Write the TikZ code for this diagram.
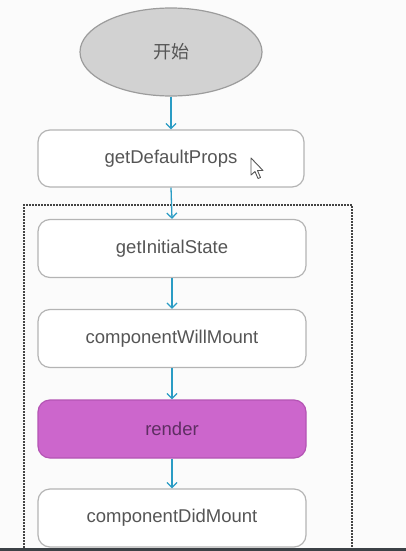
\documentclass[tikz,border=0pt]{standalone}
\usepackage{fontspec}
\setmainfont{Liberation Sans}
\newfontfamily\cjk{Noto Sans CJK SC}
\usetikzlibrary{shapes.geometric,arrows.meta}
\definecolor{bgc}{HTML}{FBFBFB}
\definecolor{boxline}{HTML}{B4B4B4}
\definecolor{txt}{HTML}{555555}
\definecolor{arr}{HTML}{2A9CC4}
\definecolor{ellfill}{HTML}{D2D2D2}
\definecolor{ellline}{HTML}{9C9C9C}
\definecolor{rendfill}{HTML}{CC66CC}
\definecolor{rendline}{HTML}{B454B4}
\definecolor{rendtxt}{HTML}{5E2E62}
\definecolor{dashc}{HTML}{444444}
\definecolor{barc}{HTML}{3C4146}
\tikzset{
  stepbox/.style={draw=boxline, line width=1.2pt, fill=white, rounded corners=12pt,
    minimum width=268pt, minimum height=58pt, inner sep=0pt,
    font=\fontsize{18.5}{21}\selectfont, text=txt},
  flow/.style={draw=arr, line width=1.3pt, -{Straight Barb[length=5pt,width=10pt,line width=1.3pt]}}
}
\begin{document}
\begin{tikzpicture}[x=1pt,y=-1pt]
\useasboundingbox (0,0) rectangle (406,551);
\fill[bgc] (0,0) rectangle (406,551);
% dashed frame
\draw[dashc, line width=1.3pt, dash pattern=on 2pt off 1pt] (24,560) -- (24,205) -- (352,205) -- (352,560);
\node[ellipse, draw=ellline, line width=1.2pt, fill=ellfill, minimum width=182pt, minimum height=88pt,
  font=\cjk\fontsize{18}{21}\selectfont, text=txt] (start) at (171,52) {开始};
\node[stepbox, minimum width=266pt, minimum height=57pt] (gdp) at (171,158.5) {getDefaultProps};
\node[stepbox] (gis) at (172,248.5) {getInitialState};
\node[stepbox] (cwm) at (172,338.5) {componentWillMount};
\node[stepbox, fill=rendfill, draw=rendline, text=rendtxt] (rnd) at (172,429) {render};
\node[stepbox] (cdm) at (172,518) {componentDidMount};
\draw[flow] (start.south) -- (gdp.north);
\draw[flow] (gdp.south) -- (gis.north);
\draw[flow] (gis.south) -- (cwm.north);
\draw[flow] (cwm.south) -- (rnd.north);
\draw[flow] (rnd.south) -- (cdm.north);
% mouse cursor
\draw[fill=white, draw=txt, line width=0.9pt, line join=round]
  (251,158) -- (251,175) -- (255,171.5) -- (258,178.5) -- (260.5,177.5) -- (257.5,170.5) -- (263,170.5) -- cycle;
% bottom bar
\fill[barc] (0,548) rectangle (406,551);
\end{tikzpicture}
\end{document}
